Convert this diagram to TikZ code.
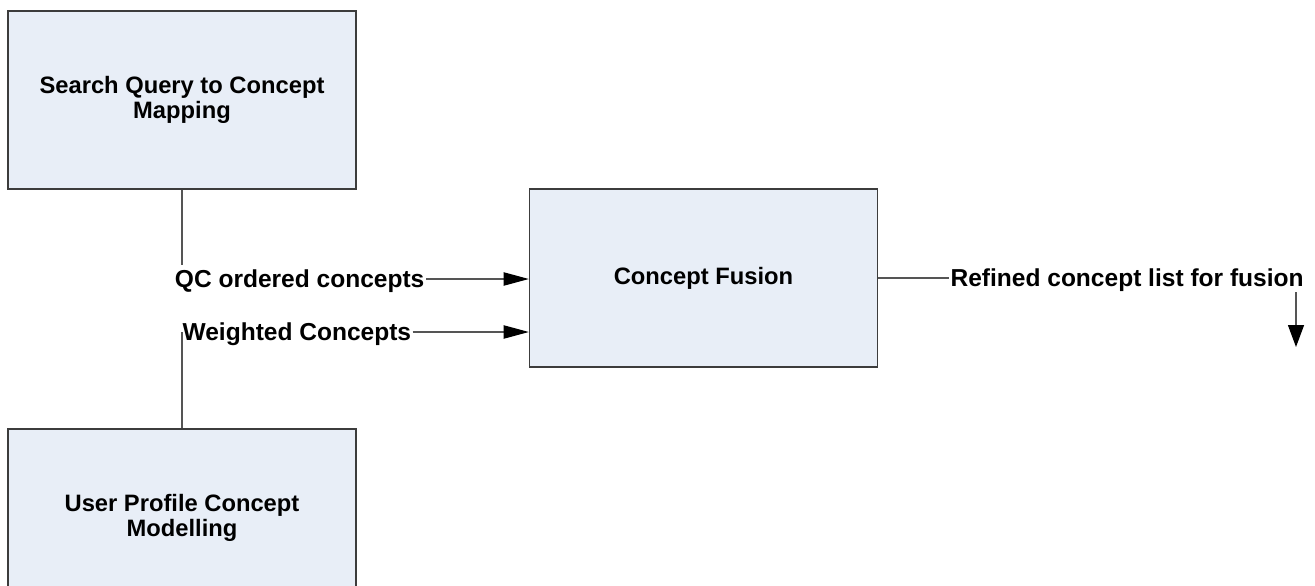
\documentclass[tikz,border=0pt]{standalone}
\usepackage{fontspec}
\setmainfont{Liberation Sans}
\usepackage{tikz}
\usetikzlibrary{arrows.meta}

\definecolor{boxfill}{RGB}{232,238,247}
\definecolor{boxline}{RGB}{60,60,60}
\definecolor{conline}{RGB}{85,85,85}

\tikzset{
  procbox/.style={draw=boxline, line width=1pt, fill=boxfill, minimum width=261pt, minimum height=133.5pt,
    align=center, font=\fontsize{17.8}{19}\selectfont\bfseries},
  lbl/.style={inner xsep=1pt, inner ysep=4pt, text depth=0pt, font=\fontsize{18.4}{20}\selectfont\bfseries},
  con/.style={draw=conline, line width=1pt},
  flow/.style={con, -{Triangle[length=19pt, width=10pt, color=black]}},
  flowdown/.style={con, -{Triangle[length=16.5pt, width=12pt, color=black]}}
}

\begin{document}
\begin{tikzpicture}[x=0.75pt,y=0.75pt,yscale=-1,xscale=1]
\clip (0,0) rectangle (1315,586);

%Shape: Rectangle [Search Query to Concept Mapping]
\node[procbox] (sq) at (182,100) {Search Query to Concept\\Mapping};
%Shape: Rectangle [Concept Fusion]
\node[procbox] (cf) at (703.5,278) {Concept Fusion};
%Shape: Rectangle [User Profile Concept Modelling]
\node[procbox] (up) at (182,518) {User Profile Concept\\Modelling};

% Text Node
\node[lbl, anchor=east] (qc) at (426,279) {QC ordered concepts};
% Text Node
\node[lbl, anchor=west] (wc) at (181,332) {Weighted Concepts};
% Text Node
\node[lbl, anchor=west] (rf) at (949,278) {Refined concept list for fusion};
\coordinate (out) at (1296,347);

%Straight Lines [QC ordered concepts]
\draw[con] (sq.south) -- (sq.south |- qc.north);
\draw[flow] (qc.east) -- (cf.west |- qc.east);
%Straight Lines [Weighted Concepts]
\draw[con] (up.north) -- (up.north |- wc.west);
\draw[flow] (wc.east) -- (cf.west |- wc.east);
%Straight Lines [Refined concept list]
\draw[con] (cf.east) -- (rf.west);
\draw[flowdown] (rf.south -| out) -- (out);
\end{tikzpicture}
\end{document}
